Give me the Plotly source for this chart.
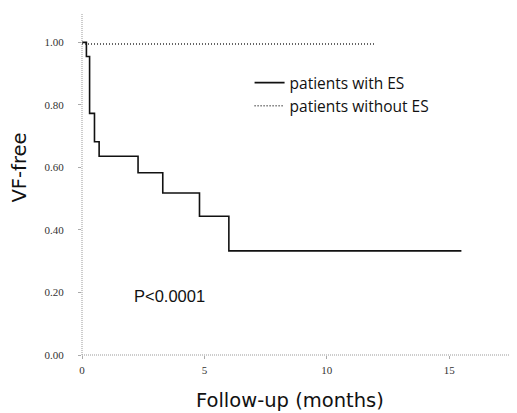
import plotly.graph_objects as go

# Kaplan-Meier step data (months, survival)
es_time = [0, 0.18, 0.31, 0.51, 0.70, 2.29, 3.30, 4.80, 6.0, 15.5]
es_surv = [1.00, 0.955, 0.773, 0.682, 0.636, 0.583, 0.518, 0.444, 0.333, 0.333]
noes_time = [0, 12.0]
noes_surv = [0.995, 0.995]

x_ticks = [0, 5, 10, 15]
y_ticks = [0.0, 0.2, 0.4, 0.6, 0.8, 1.0]
y_tick_labels = ["0.00", "0.20", "0.40", "0.60", "0.80", "1.00"]

fig = go.Figure()
fig.add_trace(go.Scatter(x=es_time, y=es_surv, mode="lines", line=dict(color="#111", width=1.6, shape="hv"),
                         name="patients with ES"))
fig.add_trace(go.Scatter(x=noes_time, y=noes_surv, mode="lines", line=dict(color="#333", width=1.4, dash="1px,2px"),
                         name="patients without ES"))

axis_font = dict(family="Liberation Serif, serif", size=11, color="#333")
title_font = dict(family="DejaVu Sans, sans-serif", size=19.5, color="#111")
fig.update_layout(
    width=517, height=413,
    margin=dict(l=73.5, r=10, t=5, b=66),
    plot_bgcolor="white", paper_bgcolor="white",
    showlegend=True,
    legend=dict(x=0.387, y=0.845, xanchor="left", yanchor="top", bgcolor="rgba(0,0,0,0)",
                font=dict(family="Open Sans, sans-serif", size=15.5, color="#111"),
                tracegroupgap=0, itemwidth=30),
    xaxis=dict(range=[0, 17.69], tickvals=x_ticks, ticks="outside", ticklen=3, tickcolor="#aaa",
               showgrid=False, zeroline=False, showline=False, tickfont=axis_font, automargin=False,
               ticklabelstandoff=2),
    yaxis=dict(range=[0, 1.094], tickvals=y_ticks, ticktext=y_tick_labels, ticks="outside", ticklen=3,
               tickcolor="#aaa", showgrid=False, zeroline=False, showline=False, tickfont=axis_font,
               automargin=False, ticklabelstandoff=12),
    shapes=[
        dict(type="line", xref="paper", yref="paper", x0=0, x1=0, y0=0, y1=1,
             line=dict(color="#999", width=1, dash="1px,1px")),
        dict(type="line", xref="paper", yref="paper", x0=0, x1=1, y0=0, y1=0,
             line=dict(color="#999", width=1, dash="1px,1px")),
    ],
    annotations=[
        dict(x=3.57, y=0.19, xref="x", yref="y", text="P<0.0001", showarrow=False,
             font=dict(family="Liberation Sans, Arial, sans-serif", size=16.5, color="#111")),
        dict(x=0.481, y=-0.134, xref="paper", yref="paper", text="Follow-up (months)", showarrow=False,
             xanchor="center", yanchor="middle", font=title_font),
        dict(x=-0.144, y=0.547, xref="paper", yref="paper", text="VF-free", showarrow=False, textangle=-90,
             xanchor="center", yanchor="middle", font=title_font),
    ],
)

fig.write_html("out.html")
